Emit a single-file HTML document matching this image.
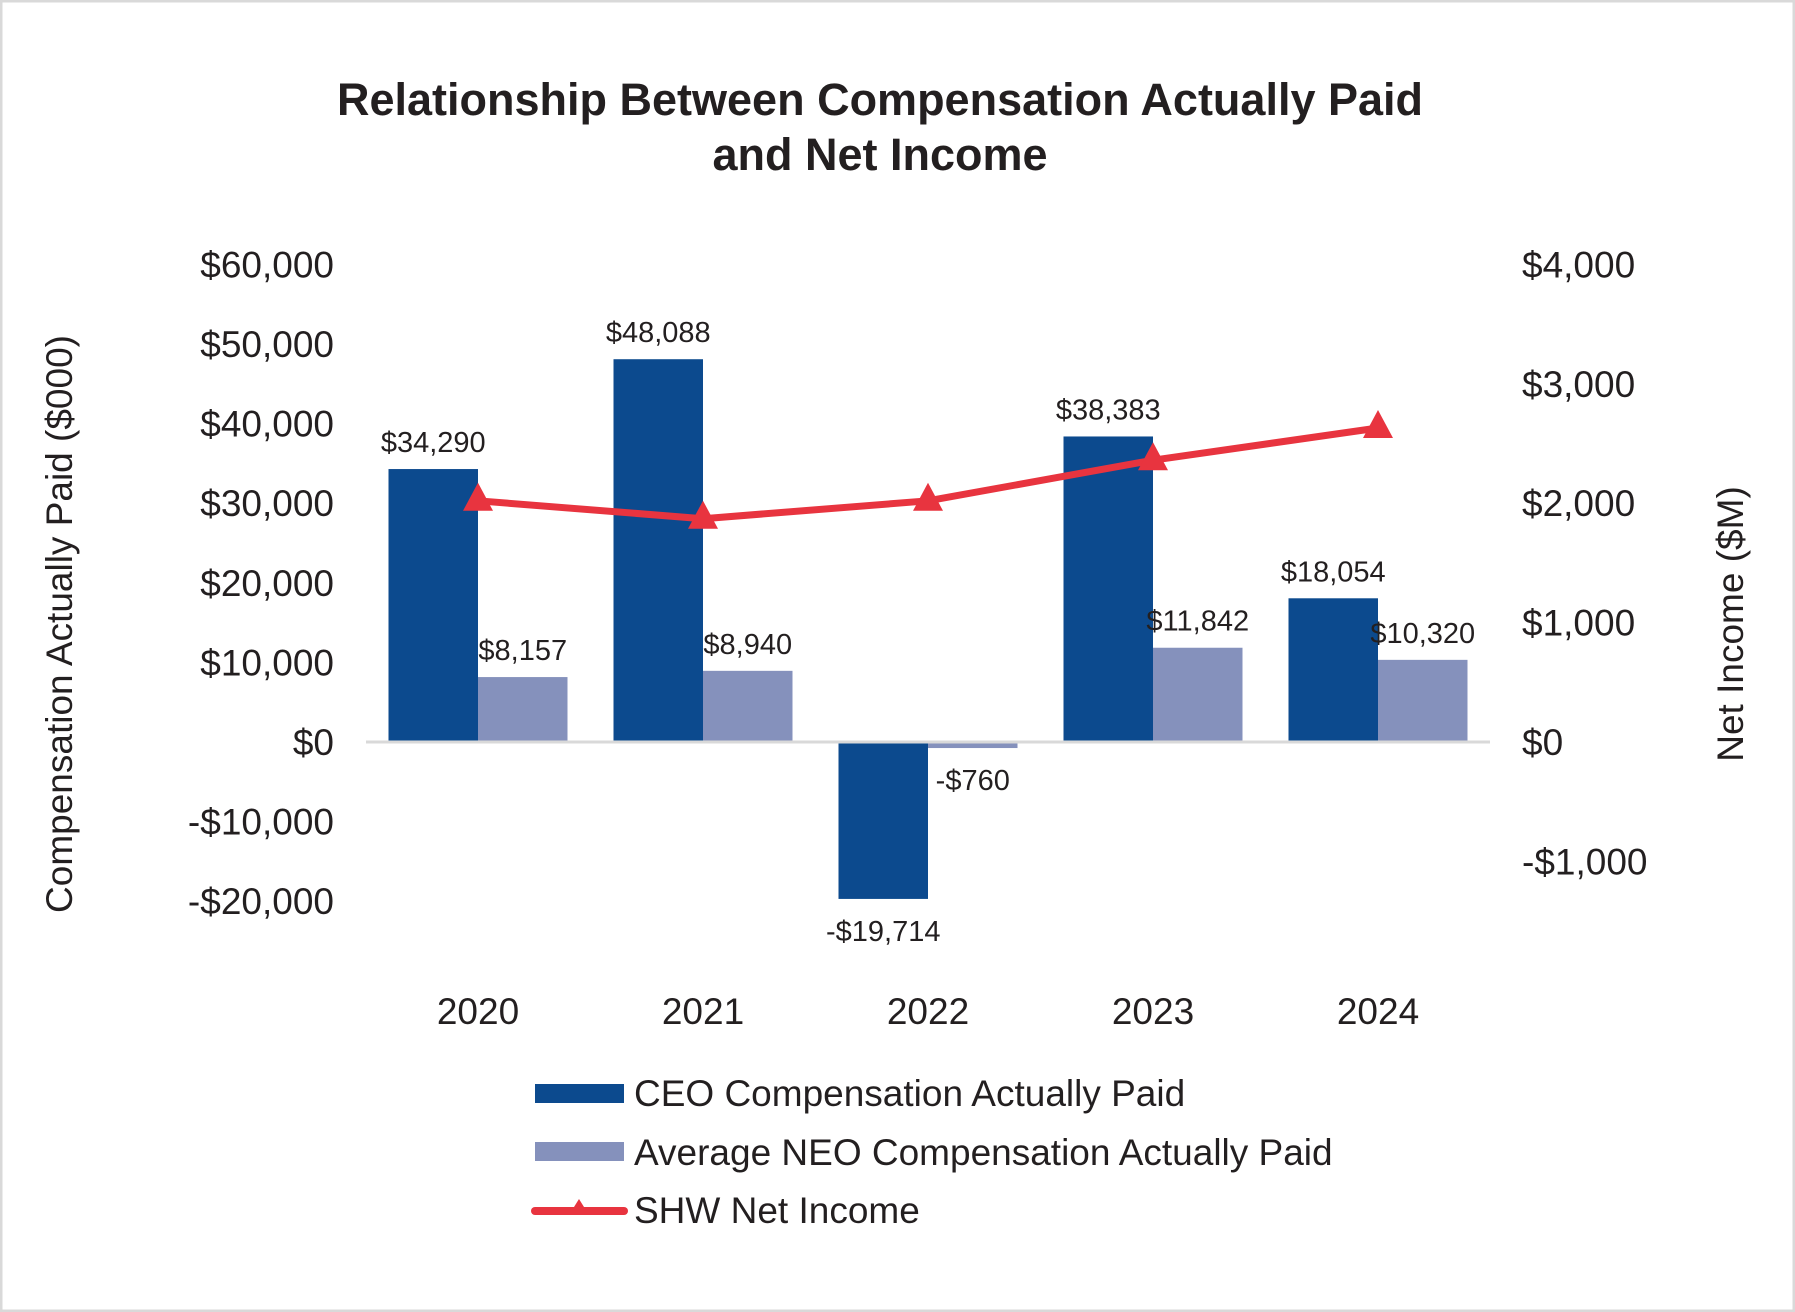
<!DOCTYPE html>
<html><head><meta charset="utf-8"><style>
body{margin:0;background:#fff}
svg{display:block;font-family:"Liberation Sans",Arial,sans-serif}
</style></head><body>
<svg id="c" width="1795" height="1312" viewBox="0 0 1795 1312">
<rect x="1" y="1" width="1793" height="1310" fill="#fff" stroke="#d9d9d9" stroke-width="3"/>
<text x="880" y="115" text-anchor="middle" font-size="45" font-weight="bold" fill="#231f20">Relationship Between Compensation Actually Paid</text>
<text x="880" y="170" text-anchor="middle" font-size="45" font-weight="bold" fill="#231f20">and Net Income</text>
<text transform="translate(72,624) rotate(-90)" text-anchor="middle" font-size="37" fill="#231f20">Compensation Actually Paid ($000)</text>
<text transform="translate(1743,624) rotate(-90)" text-anchor="middle" font-size="37" fill="#231f20">Net Income ($M)</text>
<g id="g"></g>
<g>
<rect x="535" y="1084" width="89" height="19" fill="#0c4a8e"/>
<text x="634" y="1106" font-size="37" fill="#231f20">CEO Compensation Actually Paid</text>
<rect x="535" y="1142" width="89" height="19" fill="#8591bc"/>
<text x="634" y="1165" font-size="37" fill="#231f20">Average NEO Compensation Actually Paid</text>
<line x1="535" y1="1211" x2="624" y2="1211" stroke="#e8343f" stroke-width="8" stroke-linecap="round"/>
<polygon points="579,1199 569,1215 589,1215" fill="#e8343f"/>
<text x="634" y="1223" font-size="37" fill="#231f20">SHW Net Income</text>
</g>
</svg>
<script>
const years=["2020","2021","2022","2023","2024"];
const ceo=[34290,48088,-19714,38383,18054];
const neo=[8157,8940,-760,11842,10320];
const netIncome=[2020,1870,2020,2360,2630];
const leftTicks=[60000,50000,40000,30000,20000,10000,0,-10000,-20000];
const rightTicks=[4000,3000,2000,1000,0,-1000];
const NS="http://www.w3.org/2000/svg";
const g=document.getElementById('g');
const zeroY=742;
const yL=v=>zeroY-v/10000*79.6;
const yR=v=>zeroY-v/1000*119.4;
const xC=i=>478+i*225;
const bw=89.5;
const fmt=v=>(v<0?"-$":"$")+Math.abs(v).toLocaleString("en-US");
function mk(t,a){const e=document.createElementNS(NS,t);for(const k in a)e.setAttribute(k,a[k]);g.appendChild(e);return e;}
leftTicks.forEach(v=>{const t=mk('text',{x:334,y:yL(v)+13,'text-anchor':'end','font-size':37,fill:'#231f20'});t.textContent=fmt(v);

});
rightTicks.forEach(v=>{const t=mk('text',{x:1522,y:yR(v)+13,'font-size':37,fill:'#231f20'});t.textContent=fmt(v);

});
years.forEach((y,i)=>{
const c=xC(i);
[[ceo[i],c-bw,'#0c4a8e','bar-ceo-'+y],[neo[i],c,'#8591bc','bar-neo-'+y]].forEach(([v,x,col,nm])=>{
const top=Math.min(yL(v),zeroY),h=Math.abs(yL(v)-zeroY);
const r=mk('rect',{x:x,y:top,width:bw,height:h,fill:col});


const ly=v>=0?yL(v)-17:yL(v)+42;
const t=mk('text',{x:x+bw/2,y:ly,'text-anchor':'middle','font-size':29,fill:'#231f20'});t.textContent=fmt(v);


});
const t=mk('text',{x:c,y:1024,'text-anchor':'middle','font-size':37,fill:'#231f20'});t.textContent=y;


});
const ax=mk('line',{x1:366,y1:zeroY,x2:1490,y2:zeroY,stroke:'#d9d9d9','stroke-width':3});


const pl=mk('polyline',{points:netIncome.map((v,i)=>xC(i)+','+yR(v)).join(' '),fill:'none',stroke:'#e8343f','stroke-width':7,'stroke-linejoin':'round'});


netIncome.forEach((v,i)=>{const x=xC(i),y=yR(v);
const p=mk('polygon',{points:`${x},${y-18} ${x-15},${y+10} ${x+15},${y+10}`,fill:'#e8343f'});

});
</script>
</body></html>
